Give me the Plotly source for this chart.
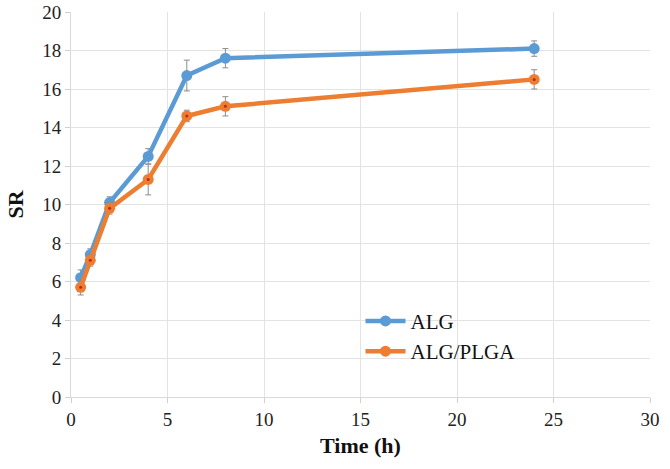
import plotly.graph_objects as go

time_h = [0.5, 1, 2, 4, 6, 8, 24]
alg_sr = [6.2, 7.4, 10.1, 12.5, 16.7, 17.6, 18.1]
alg_err = [0.4, 0.3, 0.3, 0.4, 0.8, 0.5, 0.4]
plga_sr = [5.7, 7.1, 9.8, 11.3, 14.6, 15.1, 16.5]
plga_err = [0.4, 0.3, 0.3, 0.8, 0.3, 0.5, 0.5]

blue = "#5B9BD5"
orange = "#ED7D31"
font = "Liberation Serif, Times New Roman, serif"

fig = go.Figure()
fig.add_trace(go.Scatter(
    x=time_h, y=alg_sr, name="ALG", mode="lines+markers",
    line=dict(color=blue, width=4.5),
    marker=dict(color=blue, size=11),
    error_y=dict(type="data", array=alg_err, color="#8c8c8c", thickness=1, width=3),
))
fig.add_trace(go.Scatter(
    x=time_h, y=plga_sr, name="ALG/PLGA", mode="lines+markers",
    line=dict(color=orange, width=4.5),
    marker=dict(color=orange, size=11),
    error_y=dict(type="data", array=plga_err, color="#8c8c8c", thickness=1, width=3),
))
fig.add_trace(go.Scatter(
    x=time_h, y=plga_sr, mode="markers", showlegend=False, hoverinfo="skip",
    marker=dict(color="#C0291B", size=3),
))

fig.update_layout(
    width=670, height=469,
    margin=dict(l=71, r=20, t=12, b=72, autoexpand=False),
    plot_bgcolor="white", paper_bgcolor="white",
    font=dict(family=font, size=18, color="#222"),
    showlegend=True,
    legend=dict(x=0.5, y=0.25, xanchor="left", yanchor="top",
                bgcolor="rgba(0,0,0,0)", font=dict(size=21, family=font, color="#111"),
                tracegroupgap=0, itemwidth=40),
)
fig.update_xaxes(
    range=[0, 30], dtick=5, showgrid=True, gridcolor="#e3e3e3", gridwidth=1,
    zeroline=False, showline=True, linecolor="#d9d9d9",
    ticks="outside", ticklen=5, tickcolor="#d0d0d0",
    tickfont=dict(size=19, family=font, color="#222"),
    title=dict(text="<b>Time (h)</b>", font=dict(size=22, family=font, color="#111"), standoff=8),
)
fig.update_yaxes(
    range=[0, 20], dtick=2, showgrid=True, gridcolor="#e3e3e3", gridwidth=1,
    zeroline=False, showline=True, linecolor="#d9d9d9",
    ticks="outside", ticklen=5, tickcolor="#d0d0d0",
    tickfont=dict(size=19, family=font, color="#222"),
    title=dict(text="<b>SR</b>", font=dict(size=22, family=font, color="#111"), standoff=12),
)

fig.write_html("out.html", config={"displayModeBar": False},
               post_script="document.body.style.margin='0px';")
